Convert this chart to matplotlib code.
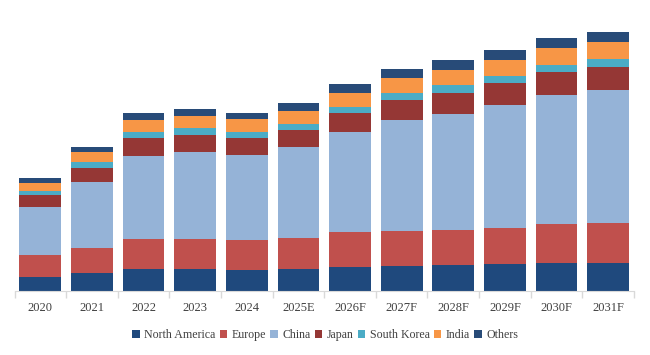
import matplotlib
matplotlib.use("Agg")
import matplotlib.pyplot as plt
import numpy as np

years = ["2020", "2021", "2022", "2023", "2024", "2025E", "2026F", "2027F",
         "2028F", "2029F", "2030F", "2031F"]
north_america = [14, 18, 22, 22, 21, 22, 24, 25, 26, 27, 28, 28]
europe        = [22, 25, 30, 30, 30, 31, 35, 35, 35, 36, 39, 40]
china         = [48, 66, 83, 87, 85, 91, 100, 111, 116, 123, 129, 133]
japan         = [12, 14, 18, 17, 17, 17, 19, 20, 21, 22, 23, 23]
south_korea   = [4, 6, 6, 7, 6, 6, 6, 7, 8, 7, 7, 8]
india         = [8, 10, 12, 12, 13, 13, 14, 15, 15, 16, 17, 17]
others        = [5, 5, 7, 7, 6, 8, 9, 9, 10, 10, 10, 10]

series = [
    ("North America", north_america, "#1F497D"),
    ("Europe", europe, "#C0504D"),
    ("China", china, "#95B3D7"),
    ("Japan", japan, "#953735"),
    ("South Korea", south_korea, "#4BACC6"),
    ("India", india, "#F79646"),
    ("Others", others, "#284B78"),
]

plt.rcParams["font.family"] = ["Liberation Serif", "DejaVu Serif"]

fig = plt.figure(figsize=(6.5, 3.55), dpi=100)
ax = fig.add_axes([14.5 / 650, (355 - 291) / 355, (634 - 14.5) / 650, (291 - 20) / 355])

x = np.arange(len(years))
bottom = np.zeros(len(years))
handles = []
for name, vals, col in series:
    b = ax.bar(x, vals, bottom=bottom, width=0.81, color=col, label=name, linewidth=0)
    handles.append(b)
    bottom += np.array(vals)

ax.set_xlim(-0.5, len(years) - 0.5)
ax.set_ylim(0, 271)
for s in ["top", "right", "left"]:
    ax.spines[s].set_visible(False)
ax.spines["bottom"].set_color("#D9D9D9")
ax.set_yticks([])

ax.set_xticks(x)
ax.set_xticklabels(years, fontsize=9, color="#404040")
ax.tick_params(axis="x", which="major", length=0, pad=8)
ax.set_xticks(np.arange(-0.5, len(years), 1), minor=True)
ax.tick_params(axis="x", which="minor", length=5, color="#D9D9D9", width=1)

leg = fig.legend(handles=handles, loc="center", bbox_to_anchor=(0.5, (355 - 335) / 355),
                 ncol=7, frameon=False, fontsize=8.6, handlelength=0.65, handleheight=0.65,
                 handletextpad=0.35, columnspacing=0.35, labelcolor="#404040")

fig.savefig("out.png", dpi=100)
